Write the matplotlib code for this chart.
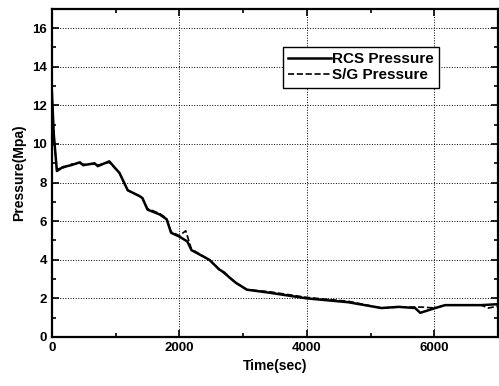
import matplotlib
matplotlib.use('Agg')
import matplotlib.pyplot as plt
import numpy as np

# RCS pressure
t_rcs = [0, 30, 78, 170, 300, 440, 490, 670, 720, 900, 1060, 1190, 1375, 1420,
         1500, 1690, 1800, 1870, 2000, 2125, 2190, 2470, 2625, 2700, 2780, 2890,
         3060, 3400, 4000, 4650, 5170, 5440, 5700, 5780, 6015, 6170, 6735, 7000]
p_rcs = [12.7, 10.5, 8.6, 8.8, 8.9, 9.05, 8.9, 9.0, 8.85, 9.1, 8.5, 7.6, 7.3, 7.2,
         6.6, 6.35, 6.1, 5.4, 5.2, 4.95, 4.5, 4.0, 3.5, 3.35, 3.1, 2.8,
         2.45, 2.3, 2.0, 1.8, 1.5, 1.56, 1.5, 1.25, 1.5, 1.65, 1.65, 1.7]

# S/G pressure (mostly on top of RCS)
t_sg = [0, 30, 78, 170, 300, 440, 490, 670, 720, 900, 1060, 1190, 1375, 1420,
        1500, 1690, 1800, 1870, 2000, 2100, 2190, 2470, 2625, 2780, 2890, 3060,
        3400, 4000, 4650, 5170, 5440, 5700, 5800, 6015, 6170, 6735, 6850, 7000]
p_sg = [12.5, 10.3, 8.7, 8.75, 8.95, 9.0, 8.95, 8.95, 8.9, 9.05, 8.5, 7.6, 7.3, 7.2,
        6.65, 6.4, 6.15, 5.45, 5.25, 5.5, 4.55, 4.0, 3.5, 3.1, 2.8, 2.45,
        2.35, 2.05, 1.85, 1.5, 1.55, 1.55, 1.55, 1.5, 1.65, 1.65, 1.5, 1.6]

plt.rcParams['font.family'] = ['Liberation Sans', 'DejaVu Sans']
plt.rcParams['font.weight'] = 'bold'

fig = plt.figure(figsize=(4.99, 3.86), dpi=100)
ax = fig.add_axes([0.104, 0.127, 0.894, 0.85])

ax.plot(t_rcs, p_rcs, color='black', lw=1.8, label='RCS Pressure')
ax.plot(t_sg, p_sg, color='black', lw=1.2, ls='--', label='S/G Pressure')

ax.set_xlim(0, 7000)
ax.set_ylim(0, 17)
ax.set_xticks([0, 2000, 4000, 6000])
ax.set_xticks([1000, 3000, 5000], minor=True)
ax.set_yticks(np.arange(0, 17, 2))
ax.set_yticks(np.arange(1, 17, 2), minor=True)
ax.tick_params(direction='in', which='both', top=True, right=True,
               labelsize=9.5, width=1.2)
ax.tick_params(which='major', length=5)
ax.tick_params(which='minor', length=3)
for lab in ax.get_xticklabels() + ax.get_yticklabels():
    lab.set_fontweight('bold')
for s in ax.spines.values():
    s.set_linewidth(1.6)
ax.grid(True, which='major', ls=':', color='black', lw=0.7)

ax.set_xlabel('Time(sec)', fontsize=10, fontweight='bold')
ax.set_ylabel('Pressure(Mpa)', fontsize=10, fontweight='bold')

leg = ax.legend(loc='upper left', bbox_to_anchor=(0.517, 0.885), fontsize=11,
                frameon=True, fancybox=False, edgecolor='black',
                handlelength=2.8, handletextpad=0.1, borderpad=0.35,
                labelspacing=0.15, borderaxespad=0)
leg.get_frame().set_linewidth(1.0)
leg.get_frame().set_alpha(1)

fig.savefig('out.png', dpi=100)
